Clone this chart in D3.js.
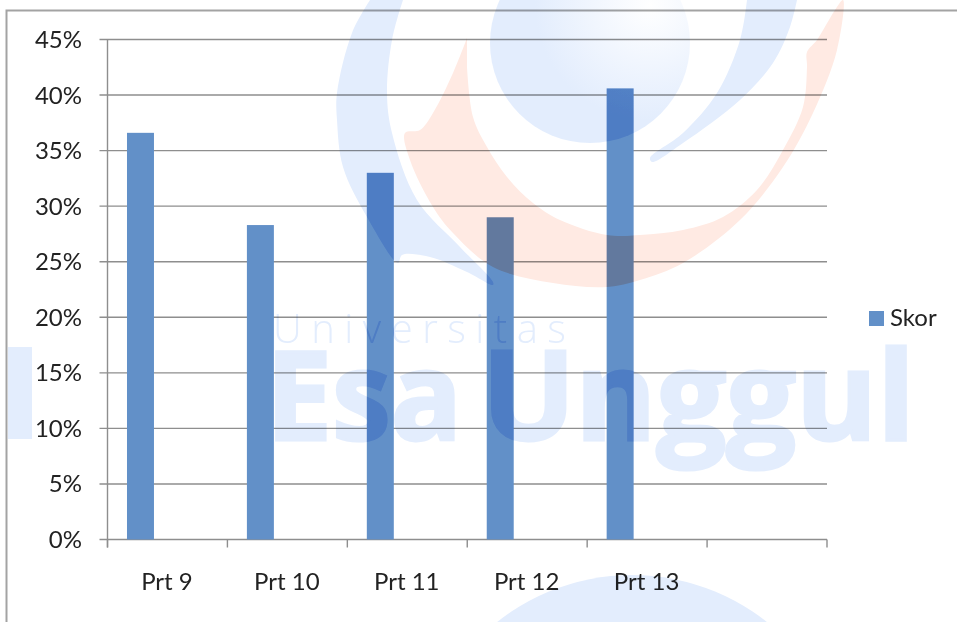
<!DOCTYPE html>
<html><head><meta charset="utf-8">
<style>html,body{margin:0;padding:0;background:#fff}svg{display:block}text{font-family:Lato,"Open Sans",sans-serif}.w text{font-family:"Open Sans",sans-serif}</style>
<script src="https://cdn.jsdelivr.net/npm/d3@7"></script></head>
<body><svg id="c" width="957" height="622"></svg>
<script>
const categories=["Prt 9","Prt 10","Prt 11","Prt 12","Prt 13",""];
const skor=[36.6,28.3,33,29,40.6];
const yTicks=[0,5,10,15,20,25,30,35,40,45];
const seriesName="Skor";
const svg=d3.select("#c");
const W=957,H=622,L=107.5,R=827,T=39.5,B=539.5;
const C={bar:"#6290c8",grid:"#8e8e8e",text:"#222",wb:"#e3edfd",wp:"#ffeae3",border:"#a3a3a3"};
const x=d3.scaleBand().domain(categories).range([L,R]);
const y=d3.scaleLinear().domain([0,45]).range([B,T]);
const barW=x.bandwidth()*27/120, barOff=x.bandwidth()*19.5/120;
const defs=svg.append("defs");

svg.append("rect").attr("width",W).attr("height",H).attr("fill","#fff");
svg.append("path").attr("d",`M6.5,${H}V10.5H${W}`).attr("fill","none").attr("stroke",C.border).attr("stroke-width",2);
svg.append("g").selectAll("line").data(yTicks).join("line")
 .attr("x1",L-8).attr("x2",R).attr("y1",d=>y(d)).attr("y2",d=>y(d))
 .attr("stroke",C.grid).attr("stroke-width",1.4);
svg.append("line").attr("x1",L).attr("x2",L).attr("y1",T).attr("y2",B+8).attr("stroke",C.grid).attr("stroke-width",1.4);
svg.append("g").selectAll("line").data(categories.map(c=>x(c)).concat([R])).join("line")
 .attr("x1",d=>d).attr("x2",d=>d).attr("y1",B).attr("y2",B+8).attr("stroke",C.grid).attr("stroke-width",1.4);
const barAttrs=s=>s.attr("x",(d,i)=>x(categories[i])+barOff).attr("width",barW)
 .attr("y",d=>y(d)).attr("height",d=>B-y(d));
svg.append("g").selectAll("rect").data(skor).join("rect").call(barAttrs).attr("fill",C.bar);
defs.append("clipPath").attr("id","barClip").selectAll("rect").data(skor).join("rect").call(barAttrs);

svg.append("g").selectAll("text").data(yTicks).join("text")
 .attr("x",82).attr("y",d=>y(d)+8.5).attr("text-anchor","end").attr("font-size",24).attr("fill",C.text).text(d=>d+"%");
svg.append("g").selectAll("text").data(categories).join("text")
 .attr("x",d=>x(d)+x.bandwidth()/2-0.5).attr("y",590).attr("text-anchor","middle").attr("font-size",24).attr("fill",C.text).text(d=>d);
svg.append("rect").attr("x",869).attr("y",311).attr("width",15).attr("height",15).attr("fill",C.bar);
svg.append("text").attr("x",890).attr("y",326).attr("font-size",24).attr("fill",C.text).text(seriesName);

// watermark, multiplied over the chart
const g=defs.append("radialGradient").attr("id","ball").attr("gradientUnits","userSpaceOnUse").attr("cx",650).attr("cy",5).attr("r",115);
g.append("stop").attr("offset",0).attr("stop-color","#fff");
g.append("stop").attr("offset",1).attr("stop-color",C.wb);
const wm=defs.append("g").attr("id","wm").attr("class","w");
const line=d3.line().curve(d3.curveCatmullRom.alpha(.5));
const blob=(pts,c)=>wm.append("path").attr("d",line(pts)+"Z").attr("fill",c);
wm.append("circle").attr("cx",590).attr("cy",43).attr("r",100).attr("fill","url(#ball)");
wm.append("circle").attr("cx",632).attr("cy",792).attr("r",217).attr("fill",C.wb);
blob([[370,0],[352,33],[337,93],[337,120],[343,167],[367,217],[398,263],[402,255],[430,257],[467,272],[493,285],[493,282],[460,247],[417,200],[392,133],[387,93],[392,40],[403,0]],C.wb);
blob([[747,0],[740,40],[717,93],[683,133],[650,158],[652,162],[683,143],[740,100],[773,63],[790,27],[797,0]],C.wb);
blob([[467,38],[453,73],[433,113],[420,130],[405,133],[410,160],[433,207],[453,233],[493,267],[553,283],[607,287],[640,280],[683,263],[740,220],[783,167],[813,113],[837,50],[843,0],[835,10],[817,40],[807,52],[807,67],[803,107],[783,150],[757,190],[723,217],[683,230],[640,235],[607,235],[560,220],[533,203],[507,177],[487,147],[473,117],[467,67]],C.wp);
wm.append("text").attr("x",273).attr("y",343).attr("textLength",293).attr("font-size",40).attr("font-weight",300).attr("fill",C.wb).text("Universitas");
wm.append("text").attr("x",266).attr("y",440).attr("textLength",196).attr("lengthAdjust","spacingAndGlyphs").attr("font-size",123).attr("font-weight",700).attr("fill",C.wb).attr("stroke",C.wb).attr("stroke-width",3).text("Esa");
wm.append("text").attr("x",482).attr("y",440).attr("textLength",433).attr("lengthAdjust","spacingAndGlyphs").attr("font-size",123).attr("font-weight",700).attr("fill",C.wb).attr("stroke",C.wb).attr("stroke-width",3).text("Unggul");
wm.append("rect").attr("x",8).attr("y",347).attr("width",24).attr("height",92).attr("fill",C.wb);
svg.append("use").attr("href","#wm").style("mix-blend-mode","multiply");
svg.append("g").attr("clip-path","url(#barClip)").style("mix-blend-mode","multiply").append("use").attr("href","#wm");
</script></body></html>
